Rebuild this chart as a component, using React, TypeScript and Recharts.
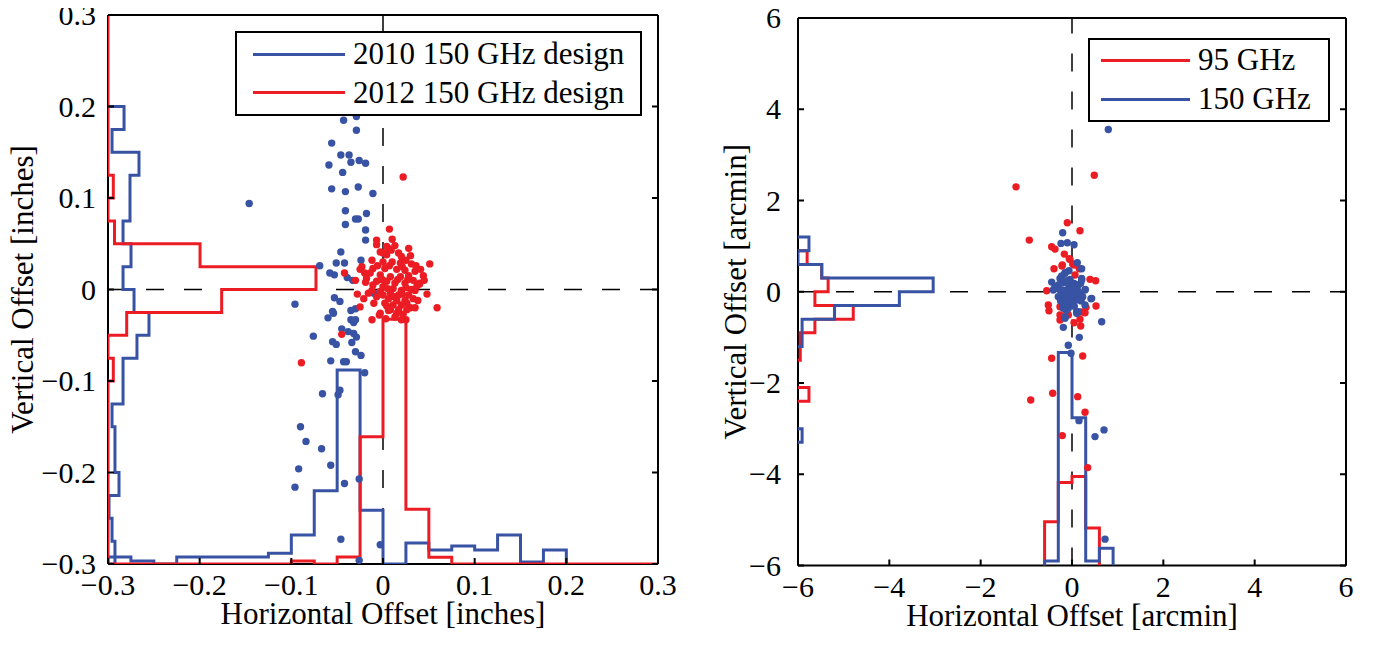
import React from 'react';
import { ScatterChart, Scatter, XAxis, YAxis, ReferenceLine, Label } from 'recharts';

const FONT = '"Liberation Serif", "Times New Roman", serif';
const BLUE = '#3853a3';
const RED = '#ec1c24';
const TICK = 6;

// ---------- left panel (inches) ----------
const leftTicks = [-0.3, -0.2, -0.1, 0, 0.1, 0.2, 0.3];
const leftEdges = [-0.3, -0.275, -0.25, -0.225, -0.2, -0.175, -0.15, -0.125, -0.1, -0.075, -0.05, -0.025, 0,
  0.025, 0.05, 0.075, 0.1, 0.125, 0.15, 0.175, 0.2, 0.225, 0.25, 0.275, 0.3];

// histogram heights in axis units, bins from -0.3 upward
const blue2010SideHist = [-0.2924, -0.2956, -0.2989, -0.288, -0.2924, -0.2924, -0.2956, -0.2836, -0.2836, -0.2684,
  -0.2553, -0.2716, -0.2836, -0.2749, -0.2836, -0.276, -0.276, -0.2662, -0.2956, -0.2825];
const red2012SideHist = [-0.3, -0.3, -0.3, -0.3, -0.3, -0.3, -0.3, -0.3, -0.2942, -0.3, -0.2796, -0.176,
  -0.0731, -0.1996, -0.2929, -0.3, -0.2942, -0.3, -0.3, -0.3, -0.3, -0.3, -0.3, -0.3];
const blue2010BottomHist = [-0.2923, -0.2967, -0.3, -0.2923, -0.2923, -0.2923, -0.2923, -0.2883, -0.2683, -0.2199,
  -0.088, -0.2413, -0.3, -0.277, -0.2847, -0.2803, -0.2847, -0.2683, -0.2978, -0.2847];
const red2012BottomHist = [-0.3, -0.3, -0.3, -0.3, -0.3, -0.3, -0.3, -0.3, -0.2967, -0.3, -0.2923, -0.1609,
  -0.0326, -0.2402, -0.2927, -0.3, -0.3, -0.3, -0.3, -0.3, -0.3, -0.3, -0.3, -0.3];

const blue2010Points = [
  [-0.043, 0.185], [-0.029, 0.189], [-0.029, 0.174], [-0.056, 0.16], [-0.046, 0.147], [-0.037, 0.147],
  [-0.035, 0.139], [-0.026, 0.141], [-0.019, 0.138], [-0.059, 0.136], [-0.044, 0.128], [-0.056, 0.11],
  [-0.041, 0.107], [-0.027, 0.112], [-0.011, 0.105], [-0.041, 0.086], [-0.018, 0.083], [-0.03, 0.077],
  [-0.027, 0.077], [-0.041, 0.071], [-0.019, 0.065], [-0.019, 0.054], [-0.046, 0.041], [-0.051, 0.029],
  [-0.042, 0.029], [-0.024, 0.032], [-0.069, 0.026], [-0.058, 0.018], [-0.053, 0.016], [-0.039, 0.013],
  [-0.033, 0.01], [-0.053, -0.009], [-0.146, 0.094], [-0.096, -0.016], [-0.047, -0.013], [-0.055, -0.024],
  [-0.06, -0.031], [-0.035, -0.023], [-0.03, -0.021], [-0.035, -0.033], [-0.032, -0.036], [-0.03, -0.033],
  [-0.045, -0.043], [-0.038, -0.046], [-0.032, -0.048], [-0.076, -0.051], [-0.029, -0.052], [-0.055, -0.057],
  [-0.051, -0.06], [-0.034, -0.058], [-0.03, -0.068], [-0.024, -0.072], [-0.057, -0.078], [-0.043, -0.079],
  [-0.04, -0.079], [-0.02, -0.091], [-0.066, -0.114], [-0.047, -0.11], [-0.049, -0.115], [-0.09, -0.15],
  [-0.084, -0.166], [-0.067, -0.174], [-0.057, -0.192], [-0.092, -0.196], [-0.042, -0.212], [-0.026, -0.207],
  [-0.096, -0.216], [-0.046, -0.273], [-0.003, -0.279], [-0.026, -0.296], [-0.01, -0.004], [-0.054, -0.026],
];
const red2012Points = [
  [-0.007, 0.049], [0.006, 0.045], [0.013, 0.048], [-0.003, 0.041], [0.004, 0.038], [0.02, 0.036], [0.03, 0.037],
  [-0.012, 0.032], [0.0, 0.03], [0.01, 0.03], [0.019, 0.029], [0.031, 0.028], [0.051, 0.028], [-0.023, 0.025],
  [-0.011, 0.023], [0.002, 0.023], [0.015, 0.022], [0.024, 0.021], [0.035, 0.02], [-0.014, 0.018], [-0.003, 0.016],
  [0.008, 0.014], [0.019, 0.014], [0.028, 0.015], [-0.018, 0.012], [-0.007, 0.009], [0.004, 0.009], [0.013, 0.007],
  [0.024, 0.007], [0.033, 0.01], [0.04, 0.007], [-0.011, 0.005], [0.0, 0.003], [0.011, 0.001], [0.02, -0.001],
  [0.031, 0.0], [-0.003, -0.002], [0.008, -0.004], [0.017, -0.006], [0.028, -0.006], [0.035, -0.001],
  [-0.016, -0.004], [-0.007, -0.008], [0.006, -0.01], [0.015, -0.012], [0.024, -0.012], [0.033, -0.01],
  [0.002, -0.015], [0.011, -0.017], [0.02, -0.017], [0.03, -0.02], [0.008, -0.022], [0.017, -0.022],
  [0.026, -0.022], [0.015, -0.026], [0.022, -0.027], [0.059, -0.02], [-0.042, 0.018], [-0.025, -0.019],
  [-0.012, -0.033], [0.02, -0.033], [0.007, 0.066], [-0.007, 0.054], [0.004, 0.047], [0.036, 0.026],
  [-0.025, 0.022], [-0.02, 0.018], [0.04, 0.006], [0.022, 0.123], [-0.045, -0.049], [-0.089, -0.08],
  [-0.004, -0.028], [0.006, -0.023], [0.025, -0.033], [-0.003, -0.026],
  [0.0, 0.04], [0.009, 0.043], [0.017, 0.04], [0.025, 0.032], [-0.006, 0.026], [0.007, 0.026], [0.021, 0.025],
  [0.041, 0.022], [-0.019, 0.008], [0.044, 0.015], [-0.001, 0.011], [0.016, 0.011], [0.027, 0.011], [0.037, 0.004],
  [-0.012, -0.001], [0.005, 0.001], [0.025, 0.002], [-0.021, -0.01], [0.0, -0.006], [0.012, -0.008], [0.021, -0.005],
  [0.038, -0.012], [-0.01, -0.015], [0.004, -0.018], [0.026, -0.015], [0.035, -0.02], [0.013, -0.03], [0.045, 0.01],
  [-0.03, 0.01], [-0.028, -0.005], [0.048, -0.005], [0.01, 0.055], [0.028, 0.045], [0.003, -0.032],
];

// ---------- right panel (arcmin) ----------
const rightTicks = [-6, -4, -2, 0, 2, 4, 6];
const blue150SideEdgesA = [-1.2, -0.9, -0.6, -0.3, 0, 0.3, 0.6, 0.9, 1.2];
const blue150SideHistA = [-5.91, -5.91, -5.2, -3.78, -3.04, -5.48, -6, -5.76];
const blue150SideEdgesB = [-3.3, -3.0];
const blue150SideHistB = [-5.91];
const red95SideEdgesA = [-1.5, -1.2, -0.9, -0.6, -0.3, 0, 0.3, 0.6, 0.9];
const red95SideHistA = [-5.95, -5.95, -5.63, -4.79, -5.63, -5.34, -5.48, -5.8];
const red95SideEdgesB = [-2.4, -2.1];
const red95SideHistB = [-5.76];
const blue150BottomEdges = [-0.6, -0.3, 0, 0.3, 0.6, 0.9];
const blue150BottomHist = [-5.9, -1.33, -2.76, -5.9, -5.62];
const red95BottomEdges = [-0.6, -0.3, 0, 0.3, 0.6];
const red95BottomHist = [-5.04, -4.18, -4.05, -5.18];

const red95Points = [
  [-1.226, 2.299], [-0.935, 1.132], [-0.103, 1.511], [0.175, 1.336], [-0.445, 0.985], [-0.372, 0.935],
  [-0.168, 0.825], [-0.059, 0.723], [0.015, 0.607], [-0.394, 0.504], [-0.219, 0.563], [0.16, 0.504],
  [0.066, 0.366], [0.394, 0.272], [0.518, 0.241], [-0.554, 0.022], [-0.519, -0.291], [-0.504, -0.416],
  [-0.263, -0.328], [-0.263, -0.51], [-0.263, -0.62], [0.307, -0.342], [0.285, -0.46], [0.212, -0.444],
  [0.526, -0.313], [0.044, -0.679], [0.19, -0.751], [0.175, -0.604], [-0.445, -1.459], [0.234, -1.408],
  [-0.116, -0.438], [-0.904, -2.371], [-0.423, -2.225], [0.125, -2.299], [0.285, -2.641], [-0.212, -3.153],
  [0.344, -3.854], [0.488, 2.555], [-0.044, 0.709], [0.05, 0.585], [-0.212, 0.585], [-0.081, -0.51],
];
const blue150Points = [
  [0.795, 3.556], [-0.204, 1.292], [-0.241, 1.06], [-0.103, 1.073], [0.044, 1.029], [0.116, 0.635],
  [0.212, 0.504], [-0.066, 0.46], [-0.153, 0.416], [-0.226, 0.344], [0.212, 0.293], [-0.445, 0.212],
  [-0.372, 0.109], [-0.19, 0.197], [-0.044, 0.272], [0.044, 0.184], [0.19, 0.184], [0.291, 0.053],
  [-0.263, 0.037], [-0.116, 0.037], [0.029, 0.0], [0.175, -0.035], [-0.19, -0.072], [-0.044, -0.109],
  [0.102, -0.145], [0.234, -0.109], [0.416, -0.153], [-0.116, -0.219], [-0.007, -0.269], [-0.19, -0.328],
  [-0.081, -0.364], [0.102, -0.438], [-0.153, -0.547], [0.65, -0.657], [-0.19, -0.78], [0.16, -0.999],
  [-0.081, -1.174], [-0.022, -1.349], [-0.3, 0.147], [-0.409, 0.037], [0.153, -2.825], [0.504, -3.175],
  [0.701, -3.028], [0.723, -5.422], [-0.153, 0.403], [-0.263, 0.293], [-0.007, 0.184], [0.138, 0.147],
  [0.212, 0.256], [-0.372, 0.074], [-0.226, 0.037], [-0.081, 0.0], [0.066, 0.053], [-0.3, -0.109],
  [-0.153, -0.072], [-0.007, -0.145], [0.285, 0.037], [-0.19, -0.219], [0.103, -0.182], [0.431, -0.145],
  [-0.116, -0.401], [0.138, -0.438], [0.285, -0.291], [-0.19, -0.364], [-0.153, -0.582], [0.103, -0.473],
  [-0.06, 0.12], [0.08, -0.05], [-0.12, -0.15], [0.0, -0.06], [0.12, 0.03], [-0.03, 0.06], [0.05, -0.32],
  [-0.25, -0.2], [0.2, -0.2], [-0.1, 0.25],
];

type P = { x: number; y: number };
const toPts = (a: number[][]): P[] => a.map(([x, y]) => ({ x, y }));

// stairs for bins along x (heights along y)
const stairsUp = (edges: number[], h: number[], base: number): P[] => {
  const pts: P[] = [{ x: edges[0], y: base }];
  h.forEach((v, i) => pts.push({ x: edges[i], y: v }, { x: edges[i + 1], y: v }));
  pts.push({ x: edges[h.length], y: base });
  return pts;
};
// stairs for bins along y (lengths along x)
const stairsSide = (edges: number[], w: number[], base: number): P[] =>
  stairsUp(edges, w, base).map((p) => ({ x: p.y, y: p.x }));

const fmt = (v: number) => (v < 0 ? '\u2212' : '') + String(Math.abs(v));

type Series = { pts: P[]; color: string };

type PanelProps = {
  left: number;
  width: number;
  margin: { top: number; right: number; bottom: number; left: number };
  domain: [number, number];
  ticks: number[];
  xTitle: string;
  yTitle: string;
  yTickGap: number;
  yTitleOffset: number;
  hists: Series[];
  dots: Series[];
};

function Panel(props: PanelProps) {
  const { left, width, margin, domain, ticks, xTitle, yTitle, yTickGap, yTitleOffset, hists, dots } = props;
  const axisLine = { stroke: '#000', strokeWidth: 2 };

  const bottomTick = (p: any) => (
    <g>
      <line x1={p.x} y1={p.y} x2={p.x} y2={p.y - TICK} stroke="#000" strokeWidth={2} />
      <text x={p.x} y={p.y + 31} textAnchor="middle" fontFamily={FONT} fontSize={30} fill="#000">
        {fmt(p.payload.value)}
      </text>
    </g>
  );
  const topTick = (p: any) => <line x1={p.x} y1={p.y} x2={p.x} y2={p.y + TICK} stroke="#000" strokeWidth={2} />;
  const leftTick = (p: any) => (
    <g>
      <line x1={p.x} y1={p.y} x2={p.x + TICK} y2={p.y} stroke="#000" strokeWidth={2} />
      <text x={p.x - yTickGap} y={p.y + 10} textAnchor="end" fontFamily={FONT} fontSize={30} fill="#000">
        {fmt(p.payload.value)}
      </text>
    </g>
  );
  const rightTick = (p: any) => <line x1={p.x} y1={p.y} x2={p.x - TICK} y2={p.y} stroke="#000" strokeWidth={2} />;

  return (
    <div style={{ position: 'absolute', left, top: 0 }}>
      <ScatterChart width={width} height={648} margin={margin}>
        <XAxis xAxisId={0} type="number" dataKey="x" domain={domain} ticks={ticks} interval={0}
          allowDataOverflow height={70} tickSize={0} tickMargin={0} tickLine={false} axisLine={axisLine} tick={bottomTick}>
          <Label content={(lp: any) => (
            <text x={lp.viewBox.x + lp.viewBox.width / 2} y={lp.viewBox.y + 60} textAnchor="middle"
              fontFamily={FONT} fontSize={31} fill="#000">{xTitle}</text>
          )} />
        </XAxis>
        <XAxis xAxisId="top" orientation="top" type="number" domain={domain} ticks={ticks} interval={0}
          allowDataOverflow height={5} tickSize={0} tickMargin={0} tickLine={false} axisLine={axisLine} tick={topTick} />
        <YAxis yAxisId={0} type="number" dataKey="y" domain={domain} ticks={ticks} interval={0}
          allowDataOverflow width={90} tickSize={0} tickMargin={0} tickLine={false} axisLine={axisLine} tick={leftTick}>
          <Label content={(lp: any) => {
            const cx = lp.viewBox.x + lp.viewBox.width - yTitleOffset;
            const cy = lp.viewBox.y + lp.viewBox.height / 2;
            return (
              <text x={cx} y={cy} transform={`rotate(-90 ${cx} ${cy})`} textAnchor="middle" dominantBaseline="central"
                fontFamily={FONT} fontSize={31} fill="#000">{yTitle}</text>
            );
          }} />
        </YAxis>
        <YAxis yAxisId="right" orientation="right" type="number" domain={domain} ticks={ticks} interval={0}
          allowDataOverflow width={10} tickSize={0} tickMargin={0} tickLine={false} axisLine={axisLine} tick={rightTick} />

        <ReferenceLine x={0} stroke="#000" strokeWidth={1.5} strokeDasharray="18 20" />
        <ReferenceLine y={0} stroke="#000" strokeWidth={1.5} strokeDasharray="18 20" />

        {hists.map((h, i) => (
          <Scatter key={'h' + i} data={h.pts} fill={h.color} line={{ stroke: h.color, strokeWidth: 3 }}
            shape={() => <g />} isAnimationActive={false} legendType="none" />
        ))}
        {dots.map((d, i) => (
          <Scatter key={'d' + i} data={d.pts} fill={d.color} isAnimationActive={false} legendType="none"
            shape={(sp: any) => <circle cx={sp.cx} cy={sp.cy} r={3.7} fill={d.color} />} />
        ))}
      </ScatterChart>
    </div>
  );
}

type LegendItem = { label: string; color: string };
function LegendBox({ x, y, w, h, lineLeft, lineLen, items }: {
  x: number; y: number; w: number; h: number; lineLeft: number; lineLen: number; items: LegendItem[];
}) {
  return (
    <div style={{
      position: 'absolute', left: x, top: y, width: w, height: h, boxSizing: 'border-box',
      border: '2px solid #000', background: '#fff', display: 'flex', flexDirection: 'column',
      justifyContent: 'center', fontFamily: FONT, fontSize: 31,
    }}>
      {items.map((it) => (
        <div key={it.label} style={{ display: 'flex', alignItems: 'center', height: 38.7 }}>
          <div style={{ marginLeft: lineLeft, width: lineLen, height: 3, background: it.color }} />
          <span style={{ marginLeft: 8, lineHeight: '38.7px', whiteSpace: 'nowrap' }}>{it.label}</span>
        </div>
      ))}
    </div>
  );
}

export default function App() {
  const leftHists: Series[] = [
    { pts: stairsSide(leftEdges.slice(0, 21), blue2010SideHist, -0.3), color: BLUE },
    { pts: stairsUp(leftEdges.slice(0, 21), blue2010BottomHist, -0.3), color: BLUE },
    { pts: stairsSide(leftEdges, red2012SideHist, -0.3), color: RED },
    { pts: stairsUp(leftEdges, red2012BottomHist, -0.3), color: RED },
  ];
  const leftDots: Series[] = [
    { pts: toPts(blue2010Points), color: BLUE },
    { pts: toPts(red2012Points), color: RED },
  ];
  const rightHists: Series[] = [
    { pts: stairsSide(red95SideEdgesA, red95SideHistA, -6), color: RED },
    { pts: stairsSide(red95SideEdgesB, red95SideHistB, -6), color: RED },
    { pts: stairsUp(red95BottomEdges, red95BottomHist, -6), color: RED },
    { pts: stairsSide(blue150SideEdgesA, blue150SideHistA, -6), color: BLUE },
    { pts: stairsSide(blue150SideEdgesB, blue150SideHistB, -6), color: BLUE },
    { pts: stairsUp(blue150BottomEdges, blue150BottomHist, -6), color: BLUE },
  ];
  const rightDots: Series[] = [
    { pts: toPts(red95Points), color: RED },
    { pts: toPts(blue150Points), color: BLUE },
  ];

  return (
    <div style={{ position: 'relative', left: -8, top: -8, width: 1377, height: 648, background: '#fff' }}>
      <Panel left={0} width={690} margin={{ top: 10, right: 22, bottom: 14, left: 18 }}
        domain={[-0.3, 0.3]} ticks={leftTicks} xTitle="Horizontal Offset [inches]" yTitle="Vertical Offset [inches]"
        yTickGap={12} yTitleOffset={86} hists={leftHists} dots={leftDots} />
      <Panel left={698} width={679} margin={{ top: 13, right: 21, bottom: 12.5, left: 10 }}
        domain={[-6, 6]} ticks={rightTicks} xTitle="Horizontal Offset [arcmin]" yTitle="Vertical Offset [arcmin]"
        yTickGap={17} yTitleOffset={63} hists={rightHists} dots={rightDots} />
      <LegendBox x={235} y={31} w={407} h={85} lineLeft={16} lineLen={92} items={[
        { label: '2010 150 GHz design', color: BLUE },
        { label: '2012 150 GHz design', color: RED },
      ]} />
      <LegendBox x={1088} y={38} w={242} h={84} lineLeft={11} lineLen={89} items={[
        { label: '95 GHz', color: RED },
        { label: '150 GHz', color: BLUE },
      ]} />
    </div>
  );
}
